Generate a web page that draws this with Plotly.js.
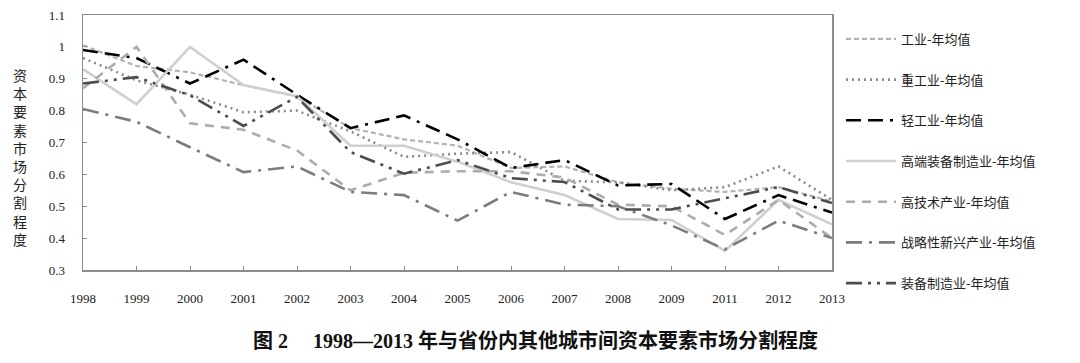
<!DOCTYPE html>
<html>
<head>
<meta charset="utf-8">
<script src="https://cdn.plot.ly/plotly-3.0.1.min.js"></script>
<style>
html,body{margin:0;padding:0;background:#fff;}
#chart{width:1080px;height:363px;}
</style>
</head>
<body>
<div id="chart"></div>
<script>
const years = ['1998','1999','2000','2001','2002','2003','2004','2005','2006','2007','2008','2009','2011','2012','2013'];

const gongye      = [1.005,0.94,0.92,0.88,0.845,0.745,0.71,0.69,0.62,0.625,0.575,0.555,0.545,0.56,0.515];
const zhonggongye = [0.965,0.895,0.85,0.795,0.80,0.735,0.655,0.665,0.67,0.58,0.575,0.55,0.56,0.625,0.52];
const qinggongye  = [0.99,0.965,0.885,0.96,0.85,0.745,0.785,0.71,0.62,0.645,0.565,0.57,0.46,0.535,0.48];
const gaoduan     = [0.93,0.82,1.0,0.88,0.845,0.69,0.69,0.64,0.575,0.535,0.46,0.457,0.36,0.52,0.443];
const gaojishu    = [0.87,1.0,0.76,0.74,0.675,0.55,0.605,0.61,0.61,0.59,0.505,0.50,0.41,0.52,0.40];
const zhanlue     = [0.805,0.765,0.685,0.607,0.625,0.545,0.535,0.455,0.545,0.505,0.50,0.44,0.365,0.455,0.40];
const zhuangbei   = [0.885,0.905,0.848,0.752,0.843,0.67,0.602,0.645,0.588,0.576,0.49,0.49,0.525,0.56,0.51];

const names = ['工业-年均值','重工业-年均值','轻工业-年均值','高端装备制造业-年均值','高技术产业-年均值','战略性新兴产业-年均值','装备制造业-年均值'];
const seriesList = [gongye, zhonggongye, qinggongye, gaoduan, gaojishu, zhanlue, zhuangbei];
const styles = [
  {color:'#b3b3b3', width:2.2, dash:'5px,3px'},
  {color:'#8a8a8a', width:2.6, dash:'2px,4px'},
  {color:'#000000', width:2.6, dash:'15px,7px,15px,7px,3px,7px'},
  {color:'#cfcfcf', width:2.6, dash:'solid'},
  {color:'#acacac', width:2.6, dash:'9px,7px'},
  {color:'#7c7c7c', width:2.6, dash:'16px,7px,3px,7px'},
  {color:'#4d4d4d', width:2.6, dash:'16px,6px,3px,6px,3px,6px'}
];

const traces = seriesList.map((s,i)=>({
  type:'scatter', mode:'lines', x:years, y:s, name:names[i],
  legendgroup:'g'+i,
  line:Object.assign({}, styles[i]),
  hoverinfo:'skip'
}));

const serif = 'Liberation Serif, Times New Roman, serif';
const cjk = 'Noto Sans CJK SC, sans-serif';

const layout = {
  width:1080, height:363,
  margin:{l:83, r:248, t:15, b:93},
  paper_bgcolor:'#fff', plot_bgcolor:'#fff',
  showlegend:true,
  legend:{x:1.012, y:0.965, xanchor:'left', yanchor:'top',
    font:{family:cjk, size:13, color:'#222'},
    itemwidth:50, tracegroupgap:20.8, maxheight:330, bgcolor:'rgba(0,0,0,0)'},
  xaxis:{type:'category', range:[0,14], showgrid:false, zeroline:false,
    showline:true, linecolor:'#8c8c8c', linewidth:1.5, mirror:true,
    ticks:'inside', ticklen:4, tickcolor:'#8c8c8c', tickwidth:1,
    ticklabelstandoff:16,
    tickfont:{family:serif, size:13, color:'#222'}},
  yaxis:{range:[0.3,1.1], tick0:0.3, dtick:0.1, showgrid:false, zeroline:false,
    showline:true, linecolor:'#8c8c8c', linewidth:1.5, mirror:true,
    ticks:'inside', ticklen:4, tickcolor:'#8c8c8c', tickwidth:1,
    ticklabelstandoff:14,
    tickfont:{family:serif, size:13, color:'#222'}},
  annotations:[
    {xref:'paper', yref:'paper', x:(20-83)/749, y:1-(157-15)/255, xanchor:'center', yanchor:'middle', showarrow:false,
     text:'资<br>本<br>要<br>素<br>市<br>场<br>分<br>割<br>程<br>度', align:'center',
     font:{family:cjk, size:14, color:'#222'}},
    {xref:'paper', yref:'paper', x:(535-83)/749, y:-(340-270)/255, xanchor:'center', yanchor:'middle', showarrow:false,
     text:'<b>图 2　 1998—2013 年与省份内其他城市间资本要素市场分割程度</b>',
     font:{family:'Liberation Serif, Noto Sans CJK SC, serif', size:20, color:'#111'}}
  ]
};

Plotly.newPlot('chart', traces, layout, {displayModeBar:false, staticPlot:true});
</script>
</body>
</html>
